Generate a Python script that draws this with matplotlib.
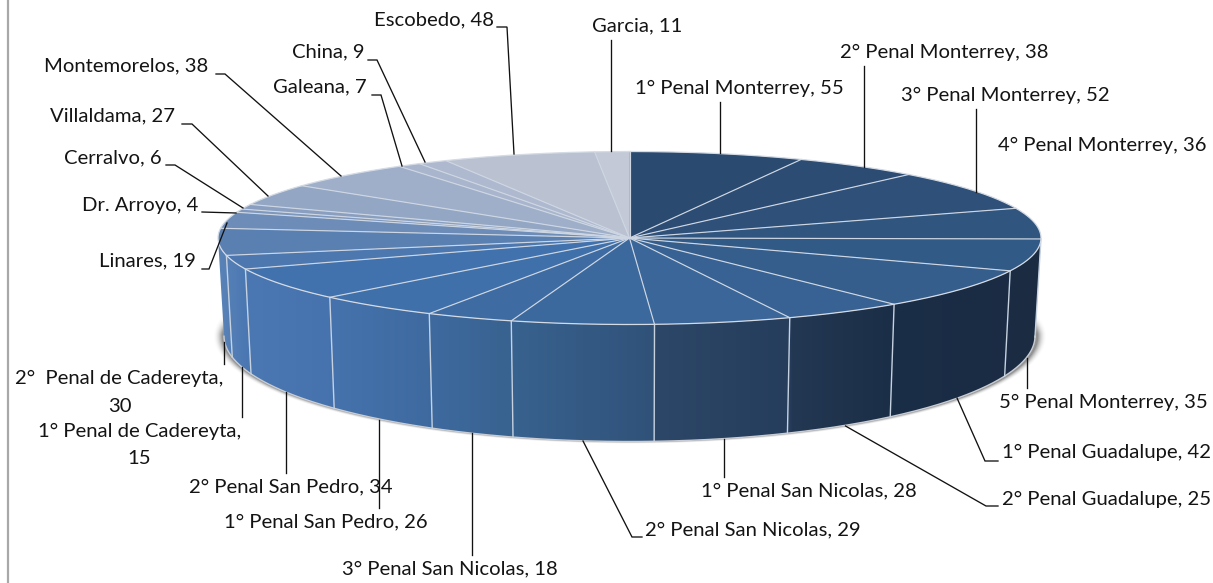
import numpy as np
import matplotlib
matplotlib.use("Agg")
import matplotlib.pyplot as plt
from matplotlib.colors import to_rgb
from matplotlib.patches import Polygon

# ---------- data ----------
names = ["1° Penal Monterrey", "2° Penal Monterrey", "3° Penal Monterrey", "4° Penal Monterrey",
         "5° Penal Monterrey", "1° Penal Guadalupe", "2° Penal Guadalupe", "1° Penal San Nicolas",
         "2° Penal San Nicolas", "3° Penal San Nicolas", "1° Penal San Pedro", "2° Penal San Pedro",
         "1° Penal de Cadereyta", "2°  Penal de Cadereyta", "Linares", "Dr. Arroyo", "Cerralvo",
         "Villaldama", "Montemorelos", "Galeana", "China", "Escobedo", "Garcia"]
values = [55, 38, 52, 36, 35, 42, 25, 28, 29, 18, 26, 34, 15, 30, 19, 4, 6, 27, 38, 7, 9, 48, 11]
top_colors = ["#2b4a70", "#2c4c74", "#2e5079", "#30557f", "#325a86", "#355e8d", "#376293", "#3a6699",
              "#3c699d", "#3e6ca2", "#4070a9", "#4272ad", "#4c78af", "#5a80b2", "#6d8cb7", "#7e97bc",
              "#8a9fc0", "#93a6c3", "#a0afc9", "#a9b5cc", "#aeb9cf", "#bac2d2", "#c3c9d6"]

# ---------- layout ----------
W, H = 1213, 583
CX, CY, RX, RY = 629.5, 238.0, 411.5, 86.5     # top ellipse
BX, BY, BRX, BRY = 629.5, 336.0, 405.5, 105.5  # bottom ellipse
SKEW = 12.8                                     # perspective warp of angles, degrees

# label: left x (or centre x when multi-line), centre y
label_pos = {
    "1° Penal Monterrey": (635, 88), "2° Penal Monterrey": (840, 52), "3° Penal Monterrey": (901, 95),
    "4° Penal Monterrey": (998, 145), "5° Penal Monterrey": (999, 402), "1° Penal Guadalupe": (1002, 452),
    "2° Penal Guadalupe": (1002, 499), "1° Penal San Nicolas": (701, 491), "2° Penal San Nicolas": (645, 530),
    "3° Penal San Nicolas": (342, 569), "1° Penal San Pedro": (224, 522), "2° Penal San Pedro": (189, 487),
    "Linares": (99, 261), "Dr. Arroyo": (82, 206), "Cerralvo": (64, 158),
    "Villaldama": (50, 116), "Montemorelos": (44, 66), "Galeana": (273, 87), "China": (292, 52),
    "Escobedo": (374, 20), "Garcia": (592, 26),
}
wrapped_pos = {"1° Penal de Cadereyta": (139.5, 445), "2°  Penal de Cadereyta": (119.5, 392.5)}
leaders = [
    [(497, 27), (507, 27), (514, 154)], [(611, 40), (611, 151)], [(720, 102), (720, 153)],
    [(864, 66), (864, 167)], [(976, 109), (976, 192)], [(1027, 358), (1027, 388)],
    [(957, 398), (985, 461), (998, 461)], [(845.5, 426), (986, 506), (998, 506)],
    [(724, 439), (724, 477)], [(583, 441), (632, 537), (642, 537)], [(472, 433), (472, 555)],
    [(379, 420), (379, 508)], [(286, 392), (286, 473)], [(242, 367), (242, 417)], [(224, 342), (224, 364)],
    [(202, 269), (209, 269), (227, 223)], [(202, 212), (236, 213)], [(166, 165), (175, 165), (243, 208)],
    [(182, 124), (192, 124), (268, 196)], [(216, 74), (225, 74), (341, 176)],
    [(372, 95), (381, 95), (402, 166)], [(368, 60), (377, 60), (425, 162)],
]
wall_stops_x = [218, 246, 329, 428, 511, 654, 656, 790, 792, 893, 1041]
wall_stops_c = ["#5b83b8", "#4b78b2", "#4673ad", "#3e6aa0", "#38628f", "#305279", "#2c4768",
                "#263d5c", "#233853", "#1b2e47", "#1a2b42"]

plt.rcParams["font.family"] = ["Lato", "DejaVu Sans"]
fig = plt.figure(figsize=(W / 100, H / 100), dpi=100, facecolor="white")
ax = fig.add_axes([0, 0, 1, 1])
ax.axis("off")


def warp(theta):
    return theta - SKEW * np.sin(np.radians(theta))


def top_pt(theta):
    p = np.radians(warp(np.asarray(theta, dtype=float)))
    return CX + RX * np.sin(p), CY - RY * np.cos(p)


def bot_pt(theta):
    p = np.radians(warp(np.asarray(theta, dtype=float)))
    return BX + BRX * np.sin(p), BY - BRY * np.cos(p)


cum = np.cumsum([0] + values) / sum(values) * 360.0

# shadow under the pie
yy, xx = np.mgrid[0:H, 0:W] + 0.5
d = np.sqrt(((xx - 630) / 417.0) ** 2 + ((yy - 336) / 108.0) ** 2)
alpha = np.clip((1.0 - d) / 0.022, 0, 1) ** 2
alpha *= np.clip((yy - 312) / 22.0, 0, 1)
shadow = np.zeros((H, W, 4))
shadow[..., :3] = 0.3
shadow[..., 3] = alpha * 0.6
ax.imshow(shadow, extent=(0, W, H, 0), zorder=1, interpolation="bilinear", aspect="auto")

# outer wall with a horizontal gradient
front = np.linspace(0, 1, 300)
phi_front = np.radians(90 + 180 * front)
tx = CX + RX * np.sin(phi_front)
ty = CY - RY * np.cos(phi_front)
bx = BX + BRX * np.sin(phi_front)
by = BY - BRY * np.cos(phi_front)
wall_xy = np.r_[np.c_[tx, ty], np.c_[bx, by][::-1]]
wall_patch = Polygon(wall_xy, closed=True, facecolor="none", edgecolor="none", transform=ax.transData)
ax.add_patch(wall_patch)
rgb = np.array([to_rgb(c) for c in wall_stops_c])
cols = np.arange(W) + 0.5
grad = np.stack([np.interp(cols, wall_stops_x, rgb[:, i]) for i in range(3)], axis=-1)[None, :, :]
im = ax.imshow(grad, extent=(0, W, H, 0), zorder=2, aspect="auto", interpolation="nearest")
im.set_clip_path(wall_patch)

# bottom rim highlight
ax.plot(bx[::-1], by[::-1], color="#c9cdd3", lw=1.0, zorder=2.5, solid_capstyle="round")

# vertical seams on the wall
for th in cum[:-1]:
    w = warp(th) % 360
    if 90 < w < 272:
        x0, y0 = top_pt(th)
        x1, y1 = bot_pt(th)
        ax.plot([x0, x1], [y0, y1], color="#c6d2e0", lw=1.0, zorder=2.6)

# top slices
for i, val in enumerate(values):
    th = np.linspace(cum[i], cum[i + 1], 60)
    x, y = top_pt(th)
    ax.add_patch(Polygon(np.c_[np.r_[CX, x], np.r_[CY, y]], closed=True,
                         facecolor=top_colors[i], edgecolor="none", zorder=3))
for th in cum[:-1]:
    x, y = top_pt(th)
    ax.plot([CX, x], [CY, y], color="#cdd6e2", lw=0.85, zorder=3.2)

# rims of the top ellipse
ring = np.radians(np.linspace(0, 360, 720))
ax.plot(CX + RX * np.sin(ring), CY - RY * np.cos(ring), color="#d5dbe4", lw=0.9, zorder=3.3)

# leader lines
for pts in leaders:
    p = np.array(pts)
    ax.plot(p[:, 0], p[:, 1], color="#111111", lw=0.95, zorder=4, solid_joinstyle="miter")

# labels
FS = 14.6
for name, val in zip(names, values):
    if name in wrapped_pos:
        x, y = wrapped_pos[name]
        ax.text(x, y, f"{name},\n{val}", ha="center", va="center", multialignment="center",
                fontsize=FS, color="#141414", linespacing=1.72, zorder=5)
    else:
        x, y = label_pos[name]
        ax.text(x, y, f"{name}, {val}", ha="left", va="center", fontsize=FS, color="#141414", zorder=5)

# chart frame
ax.plot([8, 8], [0, H], color="#a8a8a8", lw=1.6, zorder=0.5)

ax.set_xlim(0, W)
ax.set_ylim(H, 0)
fig.savefig("out.png", dpi=100, facecolor="white")
